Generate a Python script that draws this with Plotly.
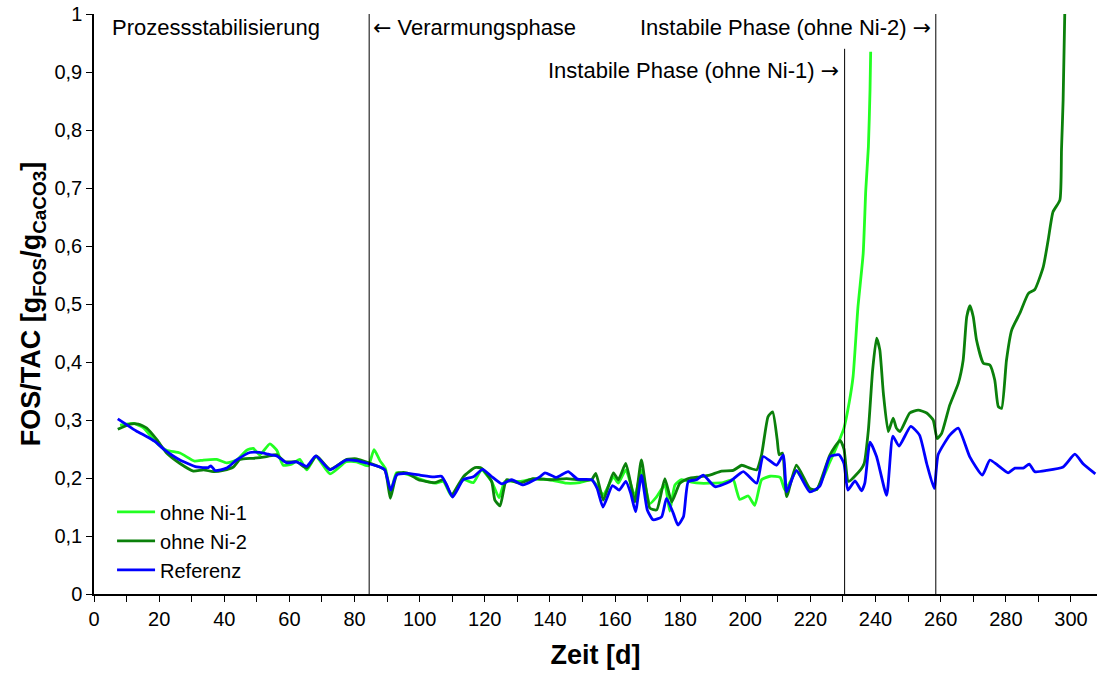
import plotly.graph_objects as go

# FOS/TAC ratio over time [d] for the three reactors
ohne_ni_1 = [
    (8, 0.291), (12.1, 0.294), (15.1, 0.287), (19.3, 0.260), (22.3, 0.248), (26.4, 0.243),
    (30.9, 0.229), (33.6, 0.231), (37.7, 0.232), (40.7, 0.226), (43.8, 0.231), (46.9, 0.248),
    (48.9, 0.251), (50.9, 0.240), (54, 0.259), (56.1, 0.248), (58.1, 0.222), (60.7, 0.224),
    (63.2, 0.232), (65.3, 0.214), (68.2, 0.237), (72.5, 0.207), (77.4, 0.228), (80.6, 0.228),
    (84.2, 0.221), (86, 0.249), (87.8, 0.230), (89.5, 0.216), (91.1, 0.176), (92.9, 0.209),
    (97, 0.205), (100.1, 0.198), (104.7, 0.191), (107.3, 0.194), (109.8, 0.169), (113.4, 0.197),
    (116.5, 0.192), (119, 0.214), (122.1, 0.194), (124.4, 0.166), (126.2, 0.194), (130.8, 0.194),
    (134.8, 0.198), (140, 0.197), (145.1, 0.191), (149.2, 0.192), (152.8, 0.197), (154.3, 0.188),
    (156.4, 0.171), (159.5, 0.202), (161, 0.191), (163.3, 0.214), (166.1, 0.169), (168.1, 0.214),
    (170.7, 0.156), (172.8, 0.168), (175.3, 0.188), (176.8, 0.143), (178.4, 0.188), (180.4, 0.197),
    (183.5, 0.193), (186.1, 0.191), (189.1, 0.191), (193.2, 0.192), (196.3, 0.197), (197.3, 0.179),
    (198.3, 0.163), (200.9, 0.169), (202.9, 0.153), (205, 0.197), (207.6, 0.203), (210.7, 0.201),
    (212.2, 0.179), (215.7, 0.211), (219.8, 0.180), (221.9, 0.180), (226, 0.228), (228.5, 0.260),
    (230.3, 0.286), (231.9, 0.330), (233.1, 0.375), (234.6, 0.495), (236.2, 0.587), (237, 0.697),
    (237.8, 0.771), (238.3, 0.869), (238.5, 0.935),
]

ohne_ni_2 = [
    (7.3, 0.284), (11.1, 0.293), (13.6, 0.293), (16.2, 0.286), (19.3, 0.266), (22.3, 0.243),
    (26.4, 0.225), (30.5, 0.212), (33.6, 0.214), (36.6, 0.211), (39.7, 0.213), (42.8, 0.219),
    (44.8, 0.232), (48.9, 0.234), (53, 0.237), (56.1, 0.240), (58.6, 0.228), (62.2, 0.228),
    (65.3, 0.217), (68.3, 0.238), (72.5, 0.215), (77.6, 0.232), (80.6, 0.233), (84.4, 0.226),
    (89.3, 0.214), (91, 0.165), (93.1, 0.208), (96, 0.209), (99.6, 0.197), (104.7, 0.192),
    (107.3, 0.197), (109.8, 0.171), (113.4, 0.202), (117, 0.218), (119, 0.217), (122.1, 0.194),
    (123.1, 0.162), (124.7, 0.152), (126.7, 0.197), (130.8, 0.191), (134.8, 0.199), (140, 0.197),
    (145.1, 0.199), (149.2, 0.197), (152.8, 0.197), (154.1, 0.208), (156.4, 0.162), (159.5, 0.209),
    (161, 0.197), (163.3, 0.225), (166.1, 0.159), (168.1, 0.231), (170.7, 0.148), (172.8, 0.145),
    (175.3, 0.199), (177.4, 0.159), (179.9, 0.191), (182.5, 0.199), (186.1, 0.202), (189.1, 0.205),
    (192.7, 0.212), (196.3, 0.213), (198.9, 0.222), (201.4, 0.217), (203.5, 0.214), (205, 0.240),
    (207, 0.306), (208.4, 0.314), (209.8, 0.266), (210.4, 0.240), (211.4, 0.243), (212.7, 0.168),
    (215.7, 0.222), (219.8, 0.182), (221.9, 0.180), (226, 0.240), (229.1, 0.265), (230.3, 0.250),
    (231.7, 0.194), (235.5, 0.215), (236.5, 0.225), (237.8, 0.283), (239.1, 0.386), (240.3, 0.441),
    (241.3, 0.421), (242.4, 0.346), (243.9, 0.280), (245.4, 0.303), (246.4, 0.286), (247.5, 0.280),
    (250.5, 0.312), (253.1, 0.317), (255.7, 0.312), (257.7, 0.300), (258.9, 0.268), (260.3, 0.277),
    (262.8, 0.326), (265.4, 0.363), (266.9, 0.403), (268, 0.478), (269, 0.497), (270, 0.478),
    (271, 0.438), (273.1, 0.398), (275.1, 0.395), (276.6, 0.369), (277.7, 0.323), (278.7, 0.320),
    (280.2, 0.403), (281.8, 0.455), (284.3, 0.484), (286.9, 0.518), (288.9, 0.525), (291.5, 0.564),
    (293, 0.610), (294.5, 0.659), (296.6, 0.679), (297.1, 0.766), (297.6, 0.852), (298.1, 1.0),
]

referenz = [
    (7.3, 0.302), (10, 0.292), (13, 0.281), (16, 0.272), (18.7, 0.263), (21.8, 0.248),
    (26.4, 0.231), (31.5, 0.219), (35.1, 0.218), (35.9, 0.221), (37.2, 0.213), (40.7, 0.217),
    (43.8, 0.231), (47.9, 0.244), (50.9, 0.244), (53.5, 0.241), (56.1, 0.238), (59.2, 0.226),
    (62.2, 0.228), (65.3, 0.220), (68.1, 0.238), (72.5, 0.214), (77.4, 0.231), (80.6, 0.230),
    (84.2, 0.225), (87.8, 0.219), (89.3, 0.214), (91.1, 0.179), (92.9, 0.205), (96, 0.208),
    (100.1, 0.205), (104.2, 0.202), (106.7, 0.203), (108.3, 0.188), (110.1, 0.167), (113.4, 0.197),
    (116.5, 0.202), (119.3, 0.215), (122, 0.203), (125.2, 0.190), (128.3, 0.197), (131.8, 0.188),
    (136.9, 0.202), (138.5, 0.209), (142, 0.201), (145.6, 0.211), (148.5, 0.198), (152.8, 0.197),
    (154.5, 0.182), (156.3, 0.150), (159.2, 0.187), (161.3, 0.179), (163.3, 0.194), (164.8, 0.174),
    (166.3, 0.142), (168.1, 0.205), (169.9, 0.145), (171.7, 0.128), (174.3, 0.133), (175.8, 0.165),
    (177.9, 0.139), (179.3, 0.119), (181, 0.133), (182.5, 0.194), (185, 0.197), (187.1, 0.205),
    (190.7, 0.185), (195.3, 0.194), (199.4, 0.211), (203.5, 0.191), (205.5, 0.237), (209.6, 0.222),
    (211.7, 0.240), (212.7, 0.176), (215.7, 0.213), (219.8, 0.176), (222.9, 0.186), (226, 0.237),
    (228.8, 0.240), (230.3, 0.225), (231.5, 0.179), (233.7, 0.195), (235.7, 0.178), (236.7, 0.191),
    (238.3, 0.262), (240.3, 0.237), (243.4, 0.170), (245.3, 0.272), (247.2, 0.255), (250.8, 0.289),
    (253.5, 0.274), (255.7, 0.225), (258, 0.182), (259.2, 0.240), (262.8, 0.274), (265.4, 0.286),
    (268.9, 0.237), (272.8, 0.205), (275.1, 0.231), (277.5, 0.222), (280.7, 0.209), (282.8, 0.217),
    (285.3, 0.217), (287.2, 0.224), (288.9, 0.211), (292.5, 0.213), (297.6, 0.219), (301.2, 0.241),
    (303.8, 0.224), (307.5, 0.207),
]

# phase boundaries [d] and the height each marker line reaches
phase_days = [84.5, 230.5, 258.5]
phase_tops = [1.0, 0.94, 1.0]

LEFT = "<span style='font-family:DejaVu Sans'>\u2190</span>"
RIGHT = "<span style='font-family:DejaVu Sans'>\u2192</span>"

# phase labels: (text, anchor day, y, alignment)
phase_labels = [
    ("Prozessstabilisierung", 5, 0.976, "left"),
    (LEFT + " Verarmungsphase", 85, 0.976, "left"),
    ("Instabile Phase (ohne Ni-2) " + RIGHT, 257.6, 0.976, "right"),
    ("Instabile Phase (ohne Ni-1) " + RIGHT, 229.4, 0.902, "right"),
]

FONT = "Arial, Liberation Sans, sans-serif"

series = [
    ("ohne Ni-1", ohne_ni_1, "#22ff22"),
    ("ohne Ni-2", ohne_ni_2, "#0b800b"),
    ("Referenz", referenz, "#0000ff"),
]

fig = go.Figure()
for name, pts, color in series:
    fig.add_trace(go.Scatter(
        x=[p[0] for p in pts], y=[p[1] for p in pts],
        mode="lines", name=name,
        line=dict(color=color, width=2.8, shape="spline", smoothing=0.5),
    ))

for day, top in zip(phase_days, phase_tops):
    fig.add_shape(type="line", xref="x", yref="y", x0=day, x1=day, y0=0, y1=top,
                  line=dict(color="black", width=1))

for text, day, y, align in phase_labels:
    fig.add_annotation(x=day, y=y, xref="x", yref="y", text=text, showarrow=False,
                       xanchor=align, yanchor="middle",
                       font=dict(family=FONT, size=22, color="black"))

fig.update_layout(
    width=1098, height=674,
    margin=dict(l=94, r=1, t=14, b=80),
    paper_bgcolor="white", plot_bgcolor="white",
    separators=",.",
    font=dict(family=FONT, size=20, color="black"),
    showlegend=True,
    legend=dict(x=0.018, y=0.008, xanchor="left", yanchor="bottom",
                bgcolor="rgba(0,0,0,0)", font=dict(size=20), tracegroupgap=0,
                itemwidth=38),
)

fig.update_xaxes(
    range=[0, 308], dtick=20, tick0=0,
    showline=True, linecolor="black", linewidth=1.5,
    ticks="outside", ticklen=6, tickcolor="black",
    minor=dict(dtick=10, ticks="outside", ticklen=6, tickcolor="black"),
    showgrid=False, zeroline=False,
    title=dict(text="<b>Zeit [d]</b>", font=dict(size=27), standoff=16),
)
fig.update_yaxes(
    range=[0, 1], dtick=0.1, tick0=0,
    showline=True, linecolor="black", linewidth=1.5,
    ticks="outside", ticklen=6, tickcolor="black",
    showgrid=False, zeroline=False,
    title=dict(text="<b>FOS/TAC [g<sub>FOS</sub>/g<sub>CaCO3</sub>]</b>",
               font=dict(size=27), standoff=6),
)

fig.write_html("out.html")
